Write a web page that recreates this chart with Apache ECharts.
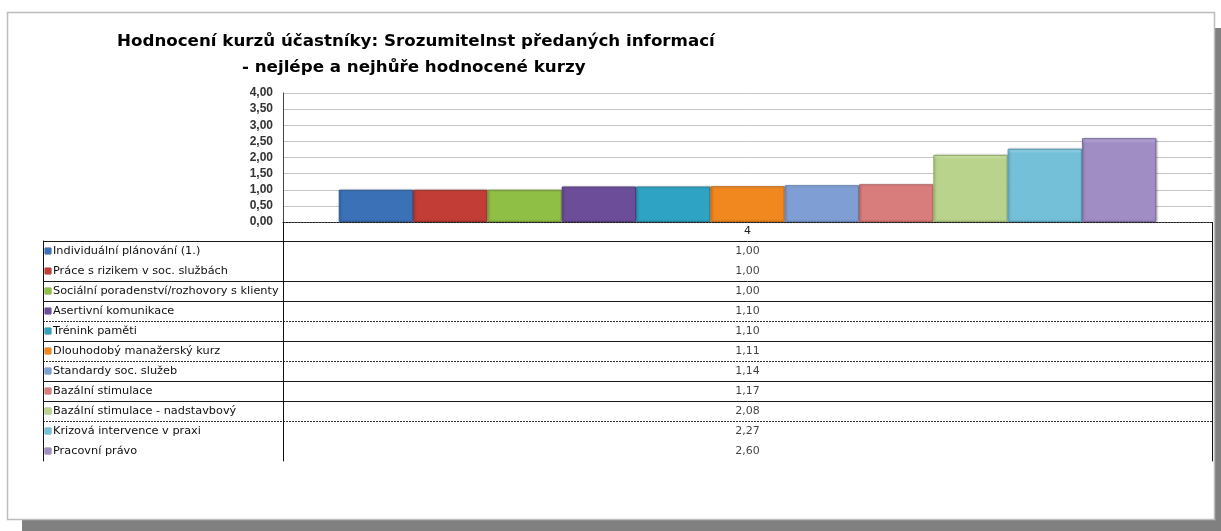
<!DOCTYPE html>
<html>
<head>
<meta charset="utf-8">
<script src="https://cdn.jsdelivr.net/npm/echarts@6/dist/echarts.min.js"></script>
<style>
html,body{margin:0;padding:0;background:#fff;}
#c{width:1221px;height:531px;}
</style>
</head>
<body>
<div id="c"></div>
<script>
const categories = ['4'];
const courses = [
  'Individuální plánování (1.)',
  'Práce s rizikem v soc. službách',
  'Sociální poradenství/rozhovory s klienty',
  'Asertivní komunikace',
  'Trénink paměti',
  'Dlouhodobý manažerský kurz',
  'Standardy soc. služeb',
  'Bazální stimulace',
  'Bazální stimulace - nadstavbový',
  'Krizová intervence v praxi',
  'Pracovní právo'
];
const values = [1.00, 1.00, 1.00, 1.10, 1.10, 1.11, 1.14, 1.17, 2.08, 2.27, 2.60];
const yMin = 0, yMax = 4, yStep = 0.5;

const colors = ['#3a71b7', '#c13d36', '#8fbf45', '#6c4d9a', '#2fa3c3', '#f0871f',
                '#7f9fd4', '#d97c7c', '#b9d38d', '#74c0d8', '#a08dc4'];
const tops   = ['#5c90d2', '#d65a53', '#aed766', '#8a6cb6', '#5cc4df', '#f9a552',
                '#a5c0ea', '#eaa1a1', '#d5ecae', '#9fdcef', '#bfb0de'];
const edges  = ['#2b5a96', '#9a2d28', '#6e9732', '#543a7a', '#217f99', '#c56a12',
                '#5f7fb5', '#b55e5e', '#93ad68', '#4f9bb3', '#7d6aa2'];

// row border styles of the data table (boundary index -> style)
const solidRows = [0, 2, 3, 5, 7, 8];
const dashedRows = [4, 6, 9];

const fmt = v => Number(v).toFixed(2).replace('.', ',');
const FONT = 'DejaVu Sans';

const rich = { t: { fontFamily: FONT, fontSize: 11.3, color: '#111', padding: [0, 0, 0, 2] } };
colors.forEach((c, i) => { rich['s' + i] = { backgroundColor: c, width: 6, height: 6, borderColor: edges[i], borderWidth: 0.5 }; });

const barSeries = courses.map((name, i) => ({
  type: 'bar', name: name, xAxisIndex: 0, yAxisIndex: 0,
  data: [values[i]],
  barGap: '0%', barCategoryGap: '12%',
  itemStyle: {
    color: { type: 'linear', x: 0, y: 0, x2: 0, y2: 1,
      colorStops: [{ offset: 0, color: tops[i] }, { offset: 0.06, color: colors[i] }, { offset: 1, color: colors[i] }] },
    borderColor: edges[i], borderWidth: 1,
    shadowColor: 'rgba(0,0,0,0.25)', shadowBlur: 2, shadowOffsetX: 1
  },
  silent: true
}));

function catAxis(grid, opts) {
  return Object.assign({
    type: 'category', gridIndex: grid, data: courses, inverse: true,
    axisLine: { show: false }, axisTick: { show: false }, axisLabel: { show: false },
    splitLine: { show: false }
  }, opts);
}
const solidSplit = { show: true, showMaxLine: false, interval: (i) => solidRows.indexOf(i) >= 0, lineStyle: { color: '#1a1a1a', width: 1 } };
const dashedSplit = { show: true, showMaxLine: false, interval: (i) => dashedRows.indexOf(i) >= 0, lineStyle: { color: '#333', width: 1, type: [2, 1] } };

const option = {
  animation: false,
  backgroundColor: '#ffffff',
  graphic: [
    { type: 'rect', z: -10, shape: { x: 22, y: 28, width: 1199, height: 503 }, style: { fill: '#808080' } },
    { type: 'rect', z: -9, shape: { x: 7.5, y: 12.5, width: 1207, height: 507 }, style: { fill: '#ffffff', stroke: '#bdbdbd', lineWidth: 1.5 } }
  ],
  title: [
    { text: 'Hodnocení kurzů účastníky: Srozumitelnst předaných informací', left: 117, top: 33, padding: 0,
      textStyle: { fontFamily: FONT, fontWeight: 'bold', fontSize: 16.7, color: '#000' } },
    { text: '- nejlépe a nejhůře hodnocené kurzy', left: 242, top: 59, padding: 0,
      textStyle: { fontFamily: FONT, fontWeight: 'bold', fontSize: 16.7, color: '#000' } }
  ],
  grid: [
    { left: 283, right: 9, top: 93, bottom: 309 },
    { left: 283, right: 9, top: 241, height: 220 },
    { left: 43, width: 240, top: 241, height: 220 }
  ],
  xAxis: [
    { type: 'category', gridIndex: 0, data: categories,
      axisLine: { show: true, lineStyle: { color: '#222', type: [2, 1] } },
      axisTick: { show: true, length: 19, lineStyle: { color: '#111' } },
      axisLabel: { margin: 4, fontFamily: FONT, fontSize: 11, color: '#222' } },
    { type: 'category', gridIndex: 1, data: categories, show: false },
    { type: 'category', gridIndex: 2, data: categories, show: false }
  ],
  yAxis: [
    { type: 'value', gridIndex: 0, min: yMin, max: yMax, interval: yStep,
      axisLine: { show: true, lineStyle: { color: '#444' } },
      axisTick: { show: false },
      axisLabel: { formatter: fmt, fontFamily: 'Liberation Sans', fontWeight: 'bold', fontSize: 12, color: '#333', margin: 10 },
      splitLine: { lineStyle: { color: '#c4c4c4' } } },
    // values column
    catAxis(1, { axisLine: { show: true, lineStyle: { color: '#111' } }, splitLine: solidSplit }),
    catAxis(1, { splitLine: dashedSplit }),
    catAxis(1, { position: 'right', axisLine: { show: true, lineStyle: { color: '#111' } } }),
    // labels column
    catAxis(2, { axisLine: { show: true, lineStyle: { color: '#111' } }, splitLine: solidSplit,
      axisLabel: { show: true, inside: true, margin: 2, align: 'left',
        formatter: (v, i) => '{s' + i + '| }{t|' + v + '}', rich: rich } }),
    catAxis(2, { splitLine: dashedSplit })
  ],
  series: barSeries.concat([{
    type: 'scatter', xAxisIndex: 1, yAxisIndex: 1, symbolSize: 0, silent: true,
    data: courses.map((c, i) => [categories[0], c, values[i]]),
    label: { show: true, position: 'inside', formatter: p => fmt(p.value[2]),
      fontFamily: FONT, fontSize: 11, color: '#111' }
  }])
};

const chart = echarts.init(document.getElementById('c'), null, { renderer: 'canvas' });
chart.setOption(option);
</script>
</body>
</html>
